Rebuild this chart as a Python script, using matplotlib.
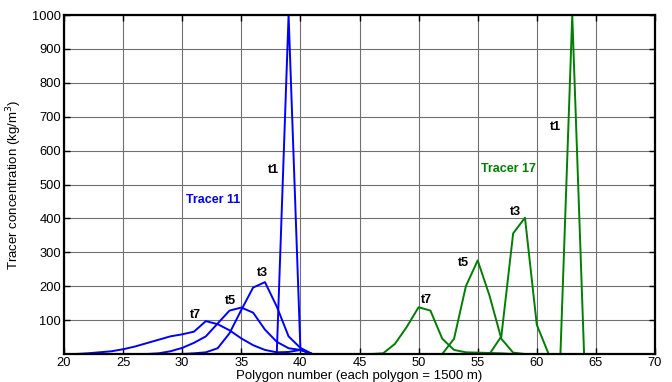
import numpy as np
import matplotlib
matplotlib.use("Agg")
from matplotlib import pyplot as plt

plt.rcParams["font.family"] = ["Liberation Sans", "DejaVu Sans"]

# ------------------------------------
# Tracer profiles (concentration per polygon)

poly_11 = list(range(21, 46))
t1_11 = [0] * 18 + [1000, 15] + [0] * 5
t3_11 = [0] * 10 + [2, 5, 17, 61, 130, 196, 212, 140, 52, 18] + [0] * 5
t5_11 = [0] * 7 + [2, 8, 18, 33, 52, 90, 128, 137, 122, 72, 36, 17, 12] + [0] * 5
t7_11 = [0, 2, 5, 8, 14, 22, 32, 42, 52, 58, 66, 97, 88, 70, 46, 26, 12, 5, 6, 12] + [0] * 5

poly_17 = list(range(46, 65))
t1_17 = [0] * 17 + [1000, 0]
t3_17 = [0] * 11 + [52, 356, 402, 86] + [0] * 4
t5_17 = [0] * 7 + [45, 200, 276, 172, 45, 4] + [0] * 6
t7_17 = [0, 2, 30, 80, 138, 128, 45, 12, 5, 4, 3, 2] + [0] * 7

blue = "#0000ff"
green = "#008000"

fig = plt.figure(figsize=(6.72, 3.82), dpi=100)
ax = fig.add_axes([64 / 672, 28 / 382, 591 / 672, 339 / 382])

for y in (t1_11, t3_11, t5_11, t7_11):
    ax.plot(poly_11, y, color=blue, lw=1.4, clip_on=False)
for y in (t1_17, t3_17, t5_17, t7_17):
    ax.plot(poly_17, y, color=green, lw=1.4, clip_on=False)

# Time labels
lbl = dict(fontsize=9, fontweight="bold", ha="center", va="center")
ax.text(37.7, 543, "t1", **lbl)
ax.text(36.8, 239, "t3", **lbl)
ax.text(34.1, 156, "t5", **lbl)
ax.text(31.1, 115, "t7", **lbl)
ax.text(61.6, 670, "t1", **lbl)
ax.text(58.2, 419, "t3", **lbl)
ax.text(53.8, 268, "t5", **lbl)
ax.text(50.7, 159, "t7", **lbl)
ax.text(32.6, 454, "Tracer 11", color=blue, fontsize=9, fontweight="bold",
        ha="center", va="center")
ax.text(57.6, 546, "Tracer 17", color=green, fontsize=9, fontweight="bold",
        ha="center", va="center")

ax.set_xlim(20, 70)
ax.set_ylim(0, 1000)
ax.set_xticks(np.arange(20, 71, 5))
ax.set_yticks(np.arange(100, 1001, 100))
ax.grid(True, color="#707070", lw=0.8)
ax.set_axisbelow(True)
ax.tick_params(direction="in", top=True, right=True, length=4, width=1,
               labelsize=9.3, pad=2)
for s in ax.spines.values():
    s.set_linewidth(1.6)
    s.set_zorder(5)

ax.set_xlabel("Polygon number (each polygon = 1500 m)", fontsize=9.5, labelpad=1)
ax.set_ylabel("Tracer concentration (kg/m$^3$)", fontsize=9.5, labelpad=6)

plt.savefig("out.png", dpi=100)
